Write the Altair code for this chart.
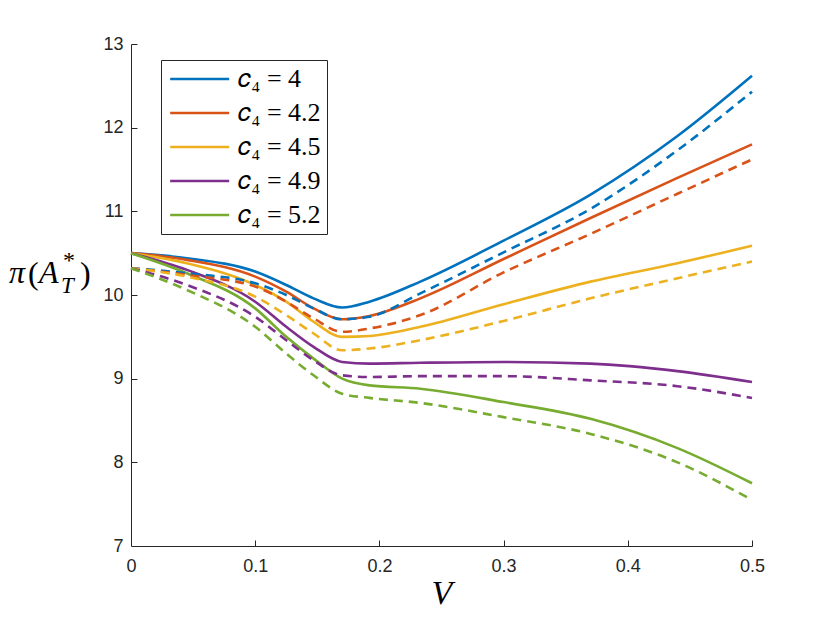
import altair as alt
import pandas as pd

V = [0, 0.045, 0.1, 0.125, 0.147, 0.17, 0.192, 0.233, 0.3, 0.37, 0.44, 0.5]
series_labels = ["𝑐₄ = 4", "𝑐₄ = 4.2", "𝑐₄ = 4.5", "𝑐₄ = 4.9", "𝑐₄ = 5.2"]
colors = ["#0072BD", "#D95319", "#EDB120", "#7E2F8E", "#77AC30"]

solid_vals = [
    [10.50, 10.44, 10.28, 10.12, 9.96, 9.85, 9.92, 10.16, 10.65, 11.20, 11.90, 12.62],
    [10.50, 10.42, 10.22, 10.04, 9.84, 9.71, 9.75, 9.96, 10.43, 10.92, 11.40, 11.80],
    [10.50, 10.38, 10.12, 9.92, 9.68, 9.50, 9.51, 9.62, 9.89, 10.16, 10.38, 10.59],
    [10.50, 10.30, 9.92, 9.62, 9.38, 9.20, 9.18, 9.19, 9.20, 9.18, 9.09, 8.96],
    [10.50, 10.26, 9.84, 9.50, 9.24, 9.00, 8.92, 8.88, 8.72, 8.52, 8.17, 7.75],
]
dashed_vals = [
    [10.32, 10.26, 10.14, 10.00, 9.84, 9.71, 9.74, 10.02, 10.51, 11.03, 11.73, 12.43],
    [10.32, 10.24, 10.10, 9.92, 9.72, 9.56, 9.60, 9.76, 10.27, 10.73, 11.21, 11.62],
    [10.32, 10.22, 9.98, 9.76, 9.54, 9.34, 9.36, 9.46, 9.69, 9.96, 10.20, 10.40],
    [10.32, 10.12, 9.74, 9.46, 9.22, 9.04, 9.02, 9.03, 9.03, 8.98, 8.91, 8.77],
    [10.32, 10.06, 9.62, 9.30, 9.04, 8.82, 8.77, 8.71, 8.54, 8.34, 8.00, 7.55],
]

rows = []
for lab, sv, dv in zip(series_labels, solid_vals, dashed_vals):
    for v, s, d in zip(V, sv, dv):
        rows.append({"V": v, "pi": s, "series": lab, "style": "solid"})
        rows.append({"V": v, "pi": d, "series": lab, "style": "dashed"})
df = pd.DataFrame(rows)

W, H = 621, 502
xscale = alt.Scale(domain=[0, 0.5], nice=False, zero=False)
yscale = alt.Scale(domain=[7, 13], nice=False, zero=False)
cscale = alt.Scale(domain=series_labels, range=colors)

SERIF = "Liberation Serif"
SANS = "Liberation Sans"
TICK_FS = 18
unit = 59 / 6.0          # legend line length 59 px = 6 path units
sym_size = (2 * unit) ** 2

base = alt.Chart(df)

solid = base.transform_filter(alt.datum.style == "solid").mark_line(
    strokeWidth=2.6, interpolate="monotone"
).encode(
    x=alt.X("V:Q", scale=xscale,
            axis=alt.Axis(values=[0, 0.1, 0.2, 0.3, 0.4, 0.5], format="~g", ticks=False, tickSize=0,
                          labelPadding=11, labelFont=SANS, labelFontSize=TICK_FS,
                          labelFlush=False, labelColor="#262626", grid=False, title="V",
                          titleFont=SERIF, titleFontStyle="italic",
                          titleFontSize=34, titleFontWeight="normal", titleColor="black",
                          titlePadding=1)),
    y=alt.Y("pi:Q", scale=yscale,
            axis=alt.Axis(values=[7, 8, 9, 10, 11, 12, 13], ticks=False, tickSize=0,
                          labelPadding=8, labelFont=SANS, labelFontSize=TICK_FS,
                          labelFlush=False, labelColor="#262626", grid=False, title=None)),
    color=alt.Color("series:N", scale=cscale, sort=series_labels,
                    legend=alt.Legend(orient="none", legendX=30, legendY=16, title=None,
                                      symbolType="M-1,0H5", symbolSize=sym_size,
                                      symbolStrokeWidth=2.6, labelFont=SERIF,
                                      labelFontSize=26, labelColor="black",
                                      labelOffset=4 * unit + 6,
                                      strokeColor="#262626", fillColor="white", padding=6,
                                      rowPadding=8, labelLimit=300)),
)

dashed = base.transform_filter(alt.datum.style == "dashed").mark_line(
    strokeWidth=2.6, interpolate="monotone", strokeDash=[9, 6]
).encode(
    x=alt.X("V:Q", scale=xscale,
            axis=alt.Axis(orient="top", offset=-H, values=[0.1, 0.2, 0.3, 0.4, 0.5],
                          domain=False, labels=False, ticks=True, tickSize=6,
                          grid=False, title=None)),
    y=alt.Y("pi:Q", scale=yscale,
            axis=alt.Axis(orient="right", offset=-W, values=[8, 9, 10, 11, 12, 13],
                          domain=False, labels=False, ticks=True, tickSize=6,
                          grid=False, title=None)),
    color=alt.Color("series:N", scale=cscale, legend=None),
)

# y-axis title pieces: π(A*_T)
title_parts = ["π", "(", "A", "*", "T", ")"]
one = pd.DataFrame({"t": [0]})


def piece(txt, x, y, size, italic):
    return alt.Chart(one).mark_text(
        text=txt, font=SERIF, fontSize=size,
        fontStyle="italic" if italic else "normal", align="left",
        baseline="alphabetic", color="black"
    ).encode(x=alt.value(x), y=alt.value(y))


ytitle = [
    piece(title_parts[0], -122, 239, 32, True),
    piece(title_parts[1], -103, 240, 32, False),
    piece(title_parts[2], -92, 239, 32, True),
    piece(title_parts[3], -68, 224, 24, False),
    piece(title_parts[4], -70, 249, 23, True),
    piece(title_parts[5], -51, 240, 32, False),
]

chart = alt.layer(solid, dashed, *ytitle).resolve_axis(
    x="independent", y="independent"
).properties(
    width=W, height=H,
    autosize=alt.AutoSizeParams(type="none"),
    padding={"left": 123, "top": 36, "right": 70, "bottom": 70},
).configure_view(stroke=None).configure_axis(
    labelFont=SANS, labelFontSize=TICK_FS, labelColor="#262626",
    domainColor="#262626", tickColor="#262626", domainWidth=1, tickWidth=1,
).configure_legend(labelFont=SERIF)

chart.save("out.html", embed_options={"renderer": "svg", "actions": False})
